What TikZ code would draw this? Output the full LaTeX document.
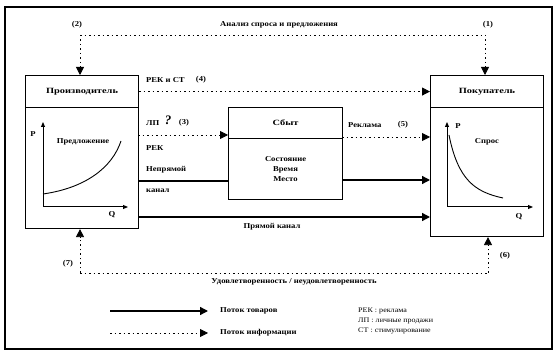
\documentclass[tikz,border=0pt]{standalone}
\usepackage{fontspec}
\setmainfont{Liberation Serif}
\newfontfamily\widefont{Liberation Serif}[FakeStretch=1.15]
\newfontfamily\wideerfont{Liberation Serif}[FakeStretch=1.3]
\usetikzlibrary{arrows.meta}
\begin{document}
\begin{tikzpicture}[x=1pt,y=-1pt,
  box/.style={draw,line width=1.1pt,inner sep=0pt,anchor=north west,font=\wideerfont\fontsize{8}{9}\selectfont\bfseries},
  lbl/.style={font=\widefont\fontsize{7.5}{9}\selectfont\bfseries,inner sep=0pt},
  leg/.style={font=\widefont\fontsize{7}{9}\selectfont,inner sep=0pt,anchor=west},
  info/.style={line width=0.8pt,dash pattern=on 1.5pt off 3pt},
  goods/.style={line width=1.4pt},
  tip/.style={-{Triangle[length=8pt,width=8pt]}},
  axis/.style={line width=1pt,-{Triangle[length=5pt,width=4pt]}}]
\useasboundingbox (0,0) rectangle (555,352);
\draw[line width=1.2pt] (5,7) rectangle (552,349);

% boxes
\node[box,minimum width=113pt,minimum height=32pt] (prodH) at (25,75) {Производитель};
\node[box,minimum width=113pt,minimum height=121pt] (prodB) at (25,107) {};
\node[box,minimum width=113pt,minimum height=32pt] (buyH) at (430,75) {Покупатель};
\node[box,minimum width=113pt,minimum height=129pt] (buyB) at (430,107) {};
\node[box,minimum width=114pt,minimum height=31pt] (sbytH) at (228,107) {Сбыт};
\node[box,minimum width=114pt,minimum height=61pt,align=center,font=\widefont\fontsize{7.5}{10}\selectfont\bfseries] (sbytB) at (228,138) {Состояние\\Время\\Место};

% top analysis loop
\coordinate (tl) at (80,35);
\coordinate (tr) at (485,35);
\draw[info] (tl) -- (tr);
\draw[info,tip] (tl) -- (tl |- prodH.north);
\draw[info,tip] (tr) -- (tr |- buyH.north);
\node[lbl] (n2) at (77,25) {(2)};
\node[lbl] (ana) at (279,25) {Анализ спроса и предложения};
\node[lbl] (n1) at (488,25) {(1)};

% (4)
\draw[info,tip] (prodH.east) -- (buyH.west);
\node[lbl,anchor=west] (rekst) at (146,80) {РЕК и СТ};
\node[lbl] (n4) at (201,80) {(4)};

% (3)
\coordinate (lp) at (138,135);
\draw[info,tip] (lp) -- (lp -| sbytH.west);
\node[lbl,anchor=west] (lpl) at (146,123) {ЛП};
\node[font=\fontsize{13}{13}\selectfont\bfseries\itshape,inner sep=0pt] (q) at (168,120) {?};
\node[lbl] (n3) at (184,123) {(3)};
\node[lbl,anchor=west] (rek) at (146,148) {РЕК};
\node[lbl,anchor=west] (nepr) at (146,170) {Непрямой};
\node[lbl,anchor=west] (kan) at (146,191) {канал};

% indirect channel
\coordinate (np) at (138,181);
\draw[goods] (np) -- (np -| sbytB.west);
\coordinate (so) at (342,180);
\draw[goods,tip] (so) -- (so -| buyB.west);

% (5)
\coordinate (re) at (342,137);
\draw[info,tip] (re) -- (re -| buyB.west);
\node[lbl,anchor=west] (rekl) at (348,125) {Реклама};
\node[lbl] (n5) at (403,125) {(5)};

% direct channel
\coordinate (pk) at (138,217);
\draw[goods,tip] (pk) -- (pk -| buyB.west);
\node[lbl] (pkl) at (272,227) {Прямой канал};

% bottom loop
\coordinate (bl) at (80,273);
\coordinate (br) at (488,273);
\draw[info] (bl) -- (br);
\draw[info,tip] (bl) -- (bl |- prodB.south);
\draw[info,tip] (br) -- (br |- buyB.south);
\node[lbl] (n7) at (68,264) {(7)};
\node[lbl] (n6) at (505,256) {(6)};
\node[lbl] (sat) at (294,282) {Удовлетворенность / неудовлетворенность};

% supply graph
\coordinate (lo) at (43,207);
\draw[axis] (lo) -- (43,122);
\draw[axis] (lo) -- (128,207);
\draw[line width=0.9pt] (43,194) .. controls (85,188) and (112,168) .. (121,141);
\node[lbl] (lpp) at (33,134) {P};
\node[lbl] (lq) at (112,215) {Q};
\node[lbl] (supl) at (83,142) {Предложение};

% demand graph
\coordinate (ro) at (447,207);
\draw[axis] (ro) -- (447,122);
\draw[axis] (ro) -- (533,207);
\draw[line width=0.9pt] (449,135) .. controls (458,180) and (475,192) .. (503,198);
\node[lbl] (rp) at (458,126) {P};
\node[lbl] (rq) at (519,217) {Q};
\node[lbl] (dem) at (487,142) {Спрос};

% legend
\coordinate (g1) at (110,311);
\coordinate (g2) at (208,311);
\draw[goods,tip] (g1) -- (g2);
\node[lbl,anchor=west] (gl) at (220,311) {Поток товаров};
\coordinate (i1) at (110,333);
\coordinate (i2) at (208,333);
\draw[info,tip] (i1) -- (i2);
\node[lbl,anchor=west] (il) at (220,333) {Поток информации};
\node[leg] (k1) at (358,311) {РЕК : реклама};
\node[leg] (k2) at (358,321) {ЛП : личные продажи};
\node[leg] (k3) at (358,331) {СТ : стимулирование};
\end{tikzpicture}
\end{document}
